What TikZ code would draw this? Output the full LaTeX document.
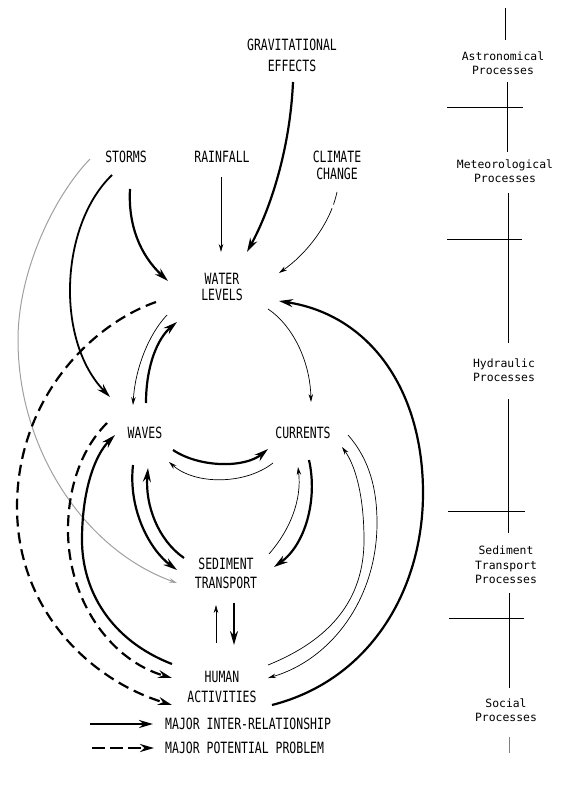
\documentclass[tikz,border=0pt]{standalone}
\usepackage{fontspec}
\usepackage{tikz}
\usetikzlibrary{arrows.meta, calc}
\newfontfamily\gothic[FakeStretch=0.74]{DejaVu Sans Mono}
\newfontfamily\mono{DejaVu Sans Mono}

\begin{document}
\begin{tikzpicture}[
        x=1pt, y=-1pt,
        lbl/.style={align=center, inner sep=0pt, font=\gothic\fontsize{15.5}{18}\selectfont},
        proc/.style={align=center, inner sep=0pt, font=\mono\fontsize{11.4}{14.5}\selectfont},
        major/.style={-{Stealth[length=14pt, width=8pt]}, line width=2.2pt},
        minor/.style={-{Stealth[length=8pt, width=4.5pt]}, line width=0.7pt},
        problem/.style={major, dash pattern=on 11pt off 6pt},
        ruler/.style={line width=0.9pt}
        ]
    \useasboundingbox (0,0) rectangle (561,786);

    \node[lbl] (grav) at (292,55) {GRAVITATIONAL\\[3pt]EFFECTS};
    \node[lbl] (storms) at (126,157) {STORMS};
    \node[lbl] (rain) at (222,157) {RAINFALL};
    \node[lbl] (climate) at (337,165) {CLIMATE\\[-1pt]CHANGE};
    \node[lbl] (wl) at (222,287) {WATER\\[-2pt]LEVELS};
    \node[lbl] (waves) at (145,433) {WAVES};
    \node[lbl] (currents) at (303,433) {CURRENTS};
    \node[lbl] (sed) at (226,573) {SEDIMENT\\[1pt]TRANSPORT};
    \node[lbl] (ha) at (222,687) {HUMAN\\[2pt]ACTIVITIES};

    \node[proc] (astro) at (503,63) {Astronomical\\Processes};
    \node[proc] (meteo) at (505,171) {Meteorological\\Processes};
    \node[proc] (hydro) at (504,370) {Hydraulic\\Processes};
    \node[proc] (sedproc) at (506,565) {Sediment\\Transport\\Processes};
    \node[proc] (social) at (506,710) {Social\\Processes};

    \node[lbl, anchor=west] (leginter) at (165,724) {MAJOR INTER-RELATIONSHIP};
    \node[lbl, anchor=west] (legprob) at (165,748) {MAJOR POTENTIAL PROBLEM};

    \draw[major] ($(grav)+(1,27)$) .. controls +(-3,68) and +(23,-42) .. ($(wl)+(25,-35)$);
    \draw[minor] ($(rain)+(-1,20)$) -- ($(wl)+(-1,-35)$);
    \draw[minor, dash pattern=on 13pt off 4pt on 400pt off 0pt] ($(climate)+(0,27)$) .. controls +(-7,33) and +(26,-18) .. ($(wl)+(57,-14)$);
    \draw[major] ($(storms)+(4,32)$) .. controls +(-2,36) and +(-28,-26) .. ($(wl)+(-54,-6)$);
    \draw[major, line width=1.8pt] ($(storms)+(-14,18)$) .. controls +(-52,50) and +(-55,-57) .. ($(waves)+(-35,-36)$);
    \draw[minor, draw=gray!75, line width=1pt] ($(storms)+(-36,2)$) .. controls +(-35,36) and +(0,-70) .. (18,340)
        .. controls +(0,110) and +(-92,-33) .. ($(sed)+(-49,10)$);

    \draw[minor] ($(wl)+(-55,28)$) .. controls +(-19,20) and +(2,-35) .. ($(waves)+(-12,-28)$);
    \draw[major] ($(waves)+(1,-30)$) .. controls +(0,-38) and +(-19,16) .. ($(wl)+(-45,35)$);
    \draw[minor] ($(wl)+(46,22)$) .. controls +(24,16) and +(-1,-42) .. ($(currents)+(8,-31)$);
    \draw[major] ($(ha)+(50,18)$) .. controls +(98,-25) and +(0,97) .. (423,493)
        .. controls +(0,-103) and +(91,14) .. ($(wl)+(57,14)$);
    \draw[problem] ($(wl)+(-66,15)$) .. controls +(-66,23) and +(0,-107) .. (17,507)
        .. controls +(0,103) and +(-82,-25) .. ($(ha)+(-50,18)$);

    \draw[problem] ($(waves)+(-38,-10)$) .. controls +(-27,27) and +(0,-40) .. (68,530)
        .. controls +(0,70) and +(-62,-18) .. ($(ha)+(-50,-9)$);
    \draw[major] ($(ha)+(-50,-23)$) .. controls +(-62,-24) and +(0,50) .. (82,540)
        .. controls +(0,-50) and +(-20,20) .. ($(waves)+(-30,2)$);
    \draw[major] ($(waves)+(28,17)$) .. controls +(27,18) and +(-23,19) .. ($(currents)+(-35,16)$);
    \draw[minor] ($(currents)+(-30,30)$) .. controls +(-28,22) and +(26,23) .. ($(waves)+(24,29)$);
    \draw[major] ($(waves)+(-12,32)$) .. controls +(-5,45) and +(-27,-20) .. ($(sed)+(-49,-3)$);
    \draw[major] ($(sed)+(-42,-15)$) .. controls +(-26,-18) and +(-3,37) .. ($(waves)+(3,35)$);
    \draw[minor] ($(sed)+(43,-19)$) .. controls +(21,-24) and +(4,33) .. ($(currents)+(-5,34)$);
    \draw[major] ($(currents)+(6,27)$) .. controls +(9,40) and +(31,-22) .. ($(sed)+(48,-6)$);

    \draw[minor] ($(currents)+(45,2)$) .. controls +(22,25) and +(0,-33) .. (377,523)
        .. controls +(0,77) and +(62,-18) .. ($(ha)+(46,-9)$);
    \draw[minor] ($(ha)+(46,-22)$) .. controls +(62,-25) and +(0,60) .. (364,540)
        .. controls +(0,-45) and +(13,18) .. ($(currents)+(39,14)$);
    \draw[minor] ($(ha)+(-6,-44)$) -- ($(sed)+(-10,32)$);
    \draw[major] ($(sed)+(8,30)$) -- ($(ha)+(12,-42)$);

    \draw[major] ($(leginter.west)+(-75,0)$) -- ($(leginter.west)+(-12,0)$);
    \draw[problem, dash pattern=on 13pt off 5pt] ($(legprob.west)+(-73,0)$) -- ($(legprob.west)+(-11,0)$);

    \draw[ruler] (505,8) -- (505,40);
    \draw[ruler] (507,82) -- (507,152);
    \draw[ruler] (447,107) -- (523,107);
    \draw[ruler] (508,193) -- (508,343);
    \draw[ruler] (447,239) -- (522,239);
    \draw[ruler] (508,399) -- (508,533);
    \draw[ruler] (448,511) -- (525,511);
    \draw[ruler] (509,593) -- (509,688);
    \draw[ruler] (449,618) -- (524,618);
    \draw[ruler, gray] (509,737) -- (509,753);
\end{tikzpicture}
\end{document}
